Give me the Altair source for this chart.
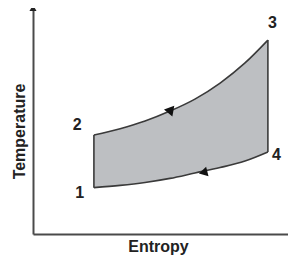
import altair as alt
import pandas as pd

# Cycle outline (entropy, temperature) in arbitrary units
curve_s = [2.37, 3.39, 4.36, 5.33, 6.30, 7.28, 8.25, 9.14]
top_T = [4.38, 4.66, 5.00, 5.44, 5.97, 6.68, 7.57, 8.58]      # 2 -> 3
bottom_T = [2.05, 2.15, 2.28, 2.46, 2.70, 2.94, 3.23, 3.63]   # 1 -> 4

label_text = ["1", "2", "3", "4"]
label_s = [1.82, 1.72, 9.32, 9.47]
label_T = [1.81, 4.83, 9.35, 3.49]

arrow_s = [5.36, 6.62]
arrow_T = [5.40, 2.72]
arrow_shape = ["triangle-down", "triangle-left"]
arrow_angle = [340, 346]
arrow_size = [120, 100]

axis_arrow_s = [0, 10.1]
axis_arrow_T = [10.0, 0]
axis_arrow_shape = ["triangle-up", "triangle-right"]

fill_df = pd.DataFrame({"s": curve_s, "top": top_T, "bottom": bottom_T})
curves_df = pd.concat([
    pd.DataFrame({"s": curve_s, "T": top_T, "c": "top"}),
    pd.DataFrame({"s": curve_s, "T": bottom_T, "c": "bottom"}),
])
sides_df = pd.DataFrame({
    "s": [curve_s[0], curve_s[-1]],
    "T1": [bottom_T[0], bottom_T[-1]],
    "T2": [top_T[0], top_T[-1]],
})

labels_df = pd.DataFrame({"s": label_s, "T": label_T, "t": label_text})
arrows_df = pd.DataFrame({"s": arrow_s, "T": arrow_T, "shape": arrow_shape,
                          "angle": arrow_angle, "size": arrow_size})
axis_arrows_df = pd.DataFrame({"s": axis_arrow_s, "T": axis_arrow_T, "shape": axis_arrow_shape})

FONT = "Liberation Sans"
xscale = alt.Scale(domain=[0, 10], range=[0, 257], nice=False, zero=False)
yscale = alt.Scale(domain=[0, 10], nice=False, zero=False)

xaxis = alt.Axis(title="Entropy", domain=True, ticks=False, labels=False, grid=False,
                 domainColor="#4a4a4a", domainWidth=2, titleFont=FONT, titleFontSize=16,
                 titleFontWeight="bold", titleColor="#222222", titlePadding=4, titleX=125)
yaxis = alt.Axis(title="Temperature", domain=True, ticks=False, labels=False, grid=False,
                 domainColor="#4a4a4a", domainWidth=2, titleFont=FONT, titleFontSize=16,
                 titleFontWeight="bold", titleColor="#222222", titlePadding=6, titleY=123)

fill = alt.Chart(fill_df).mark_area(color="#bdbfc2", opacity=1, interpolate="monotone").encode(
    x=alt.X("s:Q", scale=xscale, axis=xaxis),
    y=alt.Y("top:Q", scale=yscale, axis=yaxis),
    y2="bottom:Q",
)

curves = alt.Chart(curves_df).mark_line(color="#3a3a3a", strokeWidth=1.6, interpolate="monotone").encode(
    x=alt.X("s:Q", scale=xscale),
    y=alt.Y("T:Q", scale=yscale),
    detail="c:N",
)

sides = alt.Chart(sides_df).mark_rule(color="#3a3a3a", strokeWidth=1.6).encode(
    x=alt.X("s:Q", scale=xscale),
    y=alt.Y("T1:Q", scale=yscale),
    y2="T2:Q",
)

arrows = alt.Chart(arrows_df).mark_point(filled=True, color="#111111", opacity=1).encode(
    x=alt.X("s:Q", scale=xscale),
    y=alt.Y("T:Q", scale=yscale),
    shape=alt.Shape("shape:N", scale=None),
    angle=alt.Angle("angle:Q", scale=None),
    size=alt.Size("size:Q", scale=None),
)

axis_arrows = alt.Chart(axis_arrows_df).mark_point(filled=True, color="#222222", opacity=1, size=50).encode(
    x=alt.X("s:Q", scale=xscale),
    y=alt.Y("T:Q", scale=yscale),
    shape=alt.Shape("shape:N", scale=None),
)

labels = alt.Chart(labels_df).mark_text(font=FONT, fontSize=16, fontWeight="bold",
                                        color="#222222", baseline="middle", align="center").encode(
    x=alt.X("s:Q", scale=xscale),
    y=alt.Y("T:Q", scale=yscale),
    text="t:N",
)

chart = alt.layer(fill, curves, sides, arrows, axis_arrows, labels).properties(
    width=252, height=226,
    autosize="none",
    padding={"left": 25, "top": 0, "right": 3, "bottom": 22},
    background="white",
).configure_view(stroke=None)

chart.save("out.html", embed_options={"renderer": "svg", "actions": False})
